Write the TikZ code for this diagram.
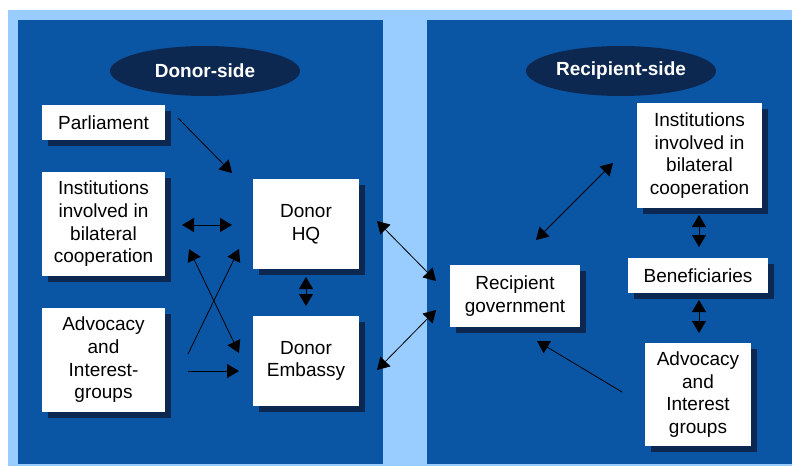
\documentclass[tikz,border=0pt]{standalone}
\usepackage{fontspec}
\setmainfont{Liberation Sans}
\usetikzlibrary{shadows,arrows.meta,shapes.geometric}
\definecolor{lightbg}{RGB}{153,204,255}
\definecolor{panel}{RGB}{11,85,165}
\definecolor{navy}{RGB}{12,40,80}
\begin{document}
\begin{tikzpicture}[x=1pt,y=-1pt,
  box/.style={fill=white, inner sep=0pt, align=center, font=\fontsize{19}{22.7}\selectfont,
    general shadow={fill=navy, shadow xshift=6pt, shadow yshift=-6pt}},
  oval/.style={ellipse, fill=navy, text=white, minimum width=190pt, minimum height=50pt, inner sep=0pt,
    font=\fontsize{19}{22.7}\selectfont\bfseries},
  arr/.style={-{Triangle[length=12pt,width=14pt]}, line width=0.8pt},
  darr/.style={{Triangle[length=12pt,width=14pt]}-{Triangle[length=12pt,width=14pt]}, line width=0.8pt}]
\useasboundingbox (0,0) rectangle (792,466);
\fill[white] (0,0) rectangle (792,466);
\fill[lightbg] (8,10) rectangle (792,466);
\fill[panel] (18,20) rectangle (383,464);
\fill[panel] (427,20) rectangle (792,464);
\node[oval] (dside) at (205,71) {Donor-side};
\node[oval] (rside) at (621,71) {Recipient-side};
% donor side
\node[box, minimum width=123pt, minimum height=35pt] (par) at (103.5,122.5) {Parliament};
\node[box, minimum width=123pt, minimum height=104pt] (instl) at (103.5,224) {Institutions\\involved in\\bilateral\\cooperation};
\node[box, minimum width=123pt, minimum height=104pt] (advl) at (103.5,360) {Advocacy\\and\\Interest-\\groups};
\node[box, minimum width=106pt, minimum height=90pt] (hq) at (306,224) {Donor\\HQ};
\node[box, minimum width=106pt, minimum height=90pt] (emb) at (306,361) {Donor\\Embassy};
% recipient side
\node[box, minimum width=130pt, minimum height=62pt] (rg) at (515,296) {Recipient\\government};
\node[box, minimum width=125pt, minimum height=105pt] (instr) at (699.5,155.5) {Institutions\\involved in\\bilateral\\cooperation};
\node[box, minimum width=140pt, minimum height=35pt] (ben) at (698,275.5) {Beneficiaries};
\node[box, minimum width=106pt, minimum height=103pt] (advr) at (698,394.5) {Advocacy\\and\\Interest\\groups};
% connector ends
\coordinate (p1) at (178,118); \coordinate (p2) at (232,173);
\coordinate (i1) at (182,225); \coordinate (i2) at (232,225);
\coordinate (c1) at (189,249); \coordinate (c2) at (239,353);
\coordinate (c3) at (188,354); \coordinate (c4) at (239,249);
\coordinate (a1) at (188,371); \coordinate (a2) at (239,371);
\coordinate (h1) at (306,277); \coordinate (h2) at (306,306);
\coordinate (r1) at (377,221); \coordinate (r2) at (436,281);
\coordinate (r3) at (377,370); \coordinate (r4) at (436,310);
\coordinate (g1) at (536,240); \coordinate (g2) at (613,163);
\coordinate (b1) at (699,215); \coordinate (b2) at (699,247);
\coordinate (b3) at (699,300); \coordinate (b4) at (699,333);
\coordinate (v1) at (622,392); \coordinate (v2) at (537,341);
\draw[arr] (p1) -- (p2);
\draw[darr] (i1) -- (i2);
\draw[darr] (c1) -- (c2);
\draw[arr] (c3) -- (c4);
\draw[arr] (a1) -- (a2);
\draw[darr] (h1) -- (h2);
\draw[darr] (r1) -- (r2);
\draw[darr] (r3) -- (r4);
\draw[darr] (g1) -- (g2);
\draw[darr] (b1) -- (b2);
\draw[darr] (b3) -- (b4);
\draw[arr] (v1) -- (v2);
\end{tikzpicture}
\end{document}
